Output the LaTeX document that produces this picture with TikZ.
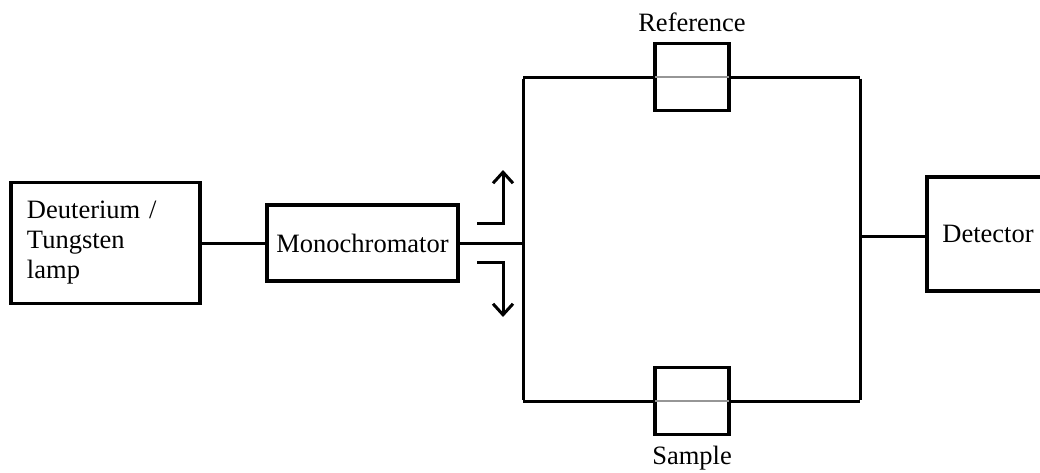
\documentclass[tikz,border=0pt]{standalone}
\usepackage{fontspec}
\setmainfont{Liberation Serif}
\usetikzlibrary{arrows.meta, positioning}
\definecolor{celgrey}{RGB}{150,150,150}

\begin{document}
\begin{tikzpicture}[
    x=1pt, y=-1pt,
    font=\fontsize{26.5}{30}\selectfont,
    unit/.style={rectangle, draw=black, line width=3.6pt, fill=white,
                 minimum width=#1, align=center, inner sep=0pt},
    cell/.style={rectangle, draw=black, line width=3.6pt, fill=white,
                 minimum width=74pt, minimum height=67pt, inner sep=0pt},
    wire/.style={line width=3pt},
    beam/.style={line width=3pt, -{Straight Barb[length=11pt, width=20pt, line width=3pt]}}
]
    \clip (0,0) rectangle (1040,472);

    % Junction points
    \coordinate (jm) at (523,243);
    \coordinate (jt) at (523,77);
    \coordinate (jb) at (523,401);
    \coordinate (kt) at (860,77);
    \coordinate (kb) at (860,401);
    \coordinate (km) at (860,236);

    % Light source
    \node[unit=189pt, minimum height=121pt, text width=157pt, align=left] (lamp) at (105.5,243) {
        Deuterium /\\
        Tungsten\\
        lamp
    };

    % Monochromator
    \node[unit=191pt, minimum height=76pt] (mono) at (362.5,243) {Monochromator};

    % Cells
    \node[cell] (ref) at (692,77) {};
    \node[cell] (smp) at (692,401) {};

    % Detector
    \node[unit=122pt, minimum height=114pt] (det) at (988,234) {Detector};

    % Beam paths
    \draw[wire] (lamp.east) -- (mono.west);
    \draw[wire] (mono.east) -- (jm);
    \draw[wire] ([yshift=-1.5pt]jt) -- ([yshift=1.5pt]jb);
    \draw[wire] (jt) -- (ref.west);
    \draw[wire] (ref.east) -- (kt);
    \draw[wire] (jb) -- (smp.west);
    \draw[wire] (smp.east) -- (kb);
    \draw[wire] ([yshift=-1.5pt]kt) -- ([yshift=1.5pt]kb);
    \draw[wire] (km) -- (km -| det.west);
    \draw[line width=2.5pt, celgrey] ([xshift=1.8pt]ref.west) -- ([xshift=-1.8pt]ref.east);
    \draw[line width=2.5pt, celgrey] ([xshift=1.8pt]smp.west) -- ([xshift=-1.8pt]smp.east);

    % Chopper arrows
    \coordinate (up0) at (477,223);
    \coordinate (up1) at (503,170);
    \coordinate (dn0) at (477,262);
    \coordinate (dn1) at (503,317);
    \draw[beam] (up0) -| (up1);
    \draw[beam] (dn0) -| (dn1);

    % Labels
    \node[above=10pt of ref, inner sep=0pt] {Reference};
    \node[below=10pt of smp, inner sep=0pt] {Sample};
\end{tikzpicture}
\end{document}
